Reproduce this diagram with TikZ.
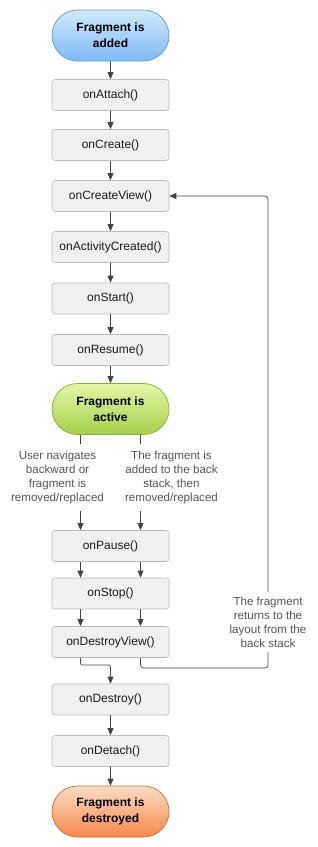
\documentclass[tikz,border=0pt]{standalone}
\usepackage{fontspec}
\setmainfont{Liberation Sans}
\usetikzlibrary{arrows.meta,shapes.misc}
\definecolor{boxfill}{HTML}{F0F0F0}
\definecolor{boxline}{HTML}{BDBDBD}
\definecolor{arrcol}{HTML}{444444}
\definecolor{lblcol}{HTML}{555555}
\definecolor{txtcol}{HTML}{1A1A1A}
\definecolor{blueT}{HTML}{D2E8FF}
\definecolor{blueB}{HTML}{7DBBF6}
\definecolor{blueL}{HTML}{5E9BD8}
\definecolor{greenT}{HTML}{E4F6A6}
\definecolor{greenB}{HTML}{A6D04A}
\definecolor{greenL}{HTML}{88AE3C}
\definecolor{orT}{HTML}{FFDCC4}
\definecolor{orB}{HTML}{F5884A}
\definecolor{orL}{HTML}{CF6E38}
\tikzset{
  cb/.style={draw=boxline, fill=boxfill, rounded corners=3pt, line width=0.6pt,
    minimum width=117pt, minimum height=31pt, inner sep=0pt, text=txtcol,
    font=\fontsize{12}{14}\selectfont},
  stad/.style={rounded rectangle, line width=0.7pt, minimum width=117pt,
    minimum height=51pt, inner sep=0pt, align=center, text=black,
    font=\fontsize{12}{16}\selectfont\bfseries},
  lbl/.style={align=center, text=lblcol, inner sep=0pt,
    font=\fontsize{11.6}{14}\selectfont},
  ln/.style={draw=arrcol, line width=0.7pt},
  arr/.style={ln, -{Triangle[length=7pt,width=6pt]}},
}
\begin{document}
\begin{tikzpicture}[x=1pt,y=-1pt]
\useasboundingbox (0,0) rectangle (317,847);
\fill[white] (0,0) rectangle (317,847);
\node[stad, draw=blueL, top color=blueT, bottom color=blueB] (added) at (110.5,35.5) {Fragment is\\added};
\node[cb] (attach) at (110.5,95) {onAttach()};
\node[cb] (create) at (110.5,145) {onCreate()};
\node[cb] (cview) at (110.5,196) {onCreateView()};
\node[cb] (actc) at (110.5,247) {onActivityCreated()};
\node[cb] (start) at (110.5,298.5) {onStart()};
\node[cb] (resume) at (110.5,350) {onResume()};
\node[stad, draw=greenL, top color=greenT, bottom color=greenB] (active) at (110.5,409) {Fragment is\\active};
\node[lbl] (lblL) at (57.5,477.5) {User navigates\\backward or\\fragment is\\removed/replaced};
\node[lbl] (lblR) at (171.5,477.5) {The fragment is\\added to the back\\stack, then\\removed/replaced};
\node[cb] (pause) at (110.5,546) {onPause()};
\node[cb] (stop) at (110.5,593.5) {onStop()};
\node[cb] (dview) at (110.5,642) {onDestroyView()};
\node[cb] (destroy) at (110.5,699.5) {onDestroy()};
\node[cb] (detach) at (110.5,751) {onDetach()};
\node[stad, draw=orL, top color=orT, bottom color=orB] (destroyed) at (110.5,811.5) {Fragment is\\destroyed};
\node[lbl, inner ysep=5pt] (ret) at (268,622) {The fragment\\returns to the\\layout from the\\back stack};
\coordinate (la) at (80.5,444);
\coordinate (ra) at (140.5,444);
\coordinate (lb) at (80.5,511);
\coordinate (rb) at (140.5,511);
\coordinate (ljoin) at (80.5,665);
\coordinate (rjoin) at (140.5,668);
\draw[arr] (added) -- (attach);
\draw[arr] (attach) -- (create);
\draw[arr] (create) -- (cview);
\draw[arr] (cview) -- (actc);
\draw[arr] (actc) -- (start);
\draw[arr] (start) -- (resume);
\draw[arr] (resume) -- (active);
\draw[ln] (active.south -| la) -- (la);
\draw[ln] (active.south -| ra) -- (ra);
\draw[arr] (lb) -- (pause.north -| lb);
\draw[arr] (rb) -- (pause.north -| rb);
\draw[arr] (pause.south -| la) -- (stop.north -| la);
\draw[arr] (pause.south -| ra) -- (stop.north -| ra);
\draw[arr] (stop.south -| la) -- (dview.north -| la);
\draw[arr] (stop.south -| ra) -- (dview.north -| ra);
\draw[arr, rounded corners=2pt] (dview.south -| ljoin) -- (ljoin) -| (destroy.north);
\draw[ln, rounded corners=3pt] (dview.south -| rjoin) -- (rjoin) -| (ret.south);
\draw[arr, rounded corners=3pt] (ret.north) |- (cview.east);
\draw[arr] (destroy) -- (detach);
\draw[arr] (detach) -- (destroyed);
\end{tikzpicture}
\end{document}
